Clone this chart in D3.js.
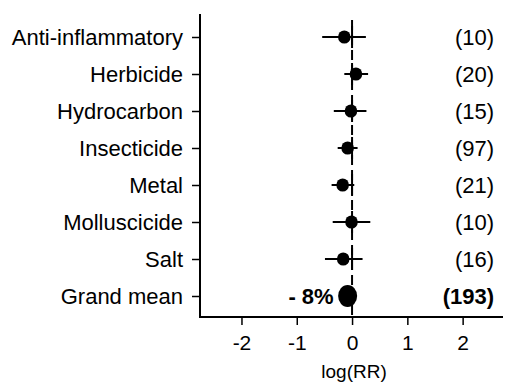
<!DOCTYPE html>
<html><head><meta charset="utf-8">
<script src="https://cdn.jsdelivr.net/npm/d3@7"></script>
<style>body{margin:0;background:#fff}svg{display:block}text{font-family:"Liberation Sans",Arial,Helvetica,sans-serif}</style>
</head><body><svg id="c" width="514" height="384"></svg>
<script>
const categories = ["Anti-inflammatory","Herbicide","Hydrocarbon","Insecticide","Metal","Molluscicide","Salt","Grand mean"];
const estimates = [-0.14, 0.07, -0.02, -0.08, -0.17, -0.01, -0.16, -0.08];
const lower = [-0.54, -0.14, -0.33, -0.26, -0.37, -0.35, -0.49, -0.14];
const upper = [0.25, 0.29, 0.26, 0.10, 0.04, 0.33, 0.19, -0.02];
const counts = ["(10)","(20)","(15)","(97)","(21)","(10)","(16)","(193)"];
const xTicks = [-2, -1, 0, 1, 2];
const grandLabel = "- 8%";

const svg = d3.select("#c");
const x = d3.scaleLinear().domain([-2.75, 2.73]).range([200, 503]);
const y = d3.scalePoint().domain(categories).range([37, 296]);
const plotLeft = 200, plotBottom = 317, plotTop = 14;

// zero dashed line
svg.append("line").attr("x1", x(0)).attr("x2", x(0)).attr("y1", 20).attr("y2", plotBottom)
  .attr("stroke", "#000").attr("stroke-width", 2).attr("stroke-dasharray", "10,5");

// axes
const yAxis = d3.axisLeft(y).tickSize(8).tickPadding(9);
const gy = svg.append("g").attr("transform", `translate(${plotLeft},0)`).call(yAxis);
gy.select(".domain").remove();
gy.selectAll(".tick line").attr("stroke-width", 1.5);
gy.selectAll(".tick text").attr("font-size", 22).attr("fill", "#000");
svg.append("line").attr("x1", plotLeft).attr("x2", plotLeft).attr("y1", plotTop).attr("y2", plotBottom + 1).attr("stroke", "#000").attr("stroke-width", 2);

const xAxis = d3.axisBottom(x).tickValues(xTicks).tickSize(8).tickPadding(10).tickFormat(d => String(d));
const gx = svg.append("g").attr("transform", `translate(0,${plotBottom})`).call(xAxis);
gx.select(".domain").remove();
gx.selectAll(".tick line").attr("stroke-width", 1.5);
gx.selectAll(".tick text").attr("font-size", 21).attr("fill", "#000");
svg.append("line").attr("x1", plotLeft - 1).attr("x2", 503).attr("y1", plotBottom).attr("y2", plotBottom).attr("stroke", "#000").attr("stroke-width", 2);

svg.append("text").attr("x", x(0) + 2).attr("y", 378).attr("text-anchor", "middle")
  .attr("font-size", 19).text("log(RR)");

const data = categories.map((c, i) => ({c, e: estimates[i], lo: lower[i], hi: upper[i], n: counts[i], grand: c === "Grand mean"}));

svg.selectAll(".ci").data(data).join("line")
  .attr("x1", d => x(d.lo)).attr("x2", d => x(d.hi))
  .attr("y1", d => y(d.c)).attr("y2", d => y(d.c))
  .attr("stroke", "#000").attr("stroke-width", 2);

svg.selectAll(".vt").data(data.filter(d => !d.grand)).join("line")
  .attr("x1", x(0)).attr("x2", x(0))
  .attr("y1", d => y(d.c) - 11).attr("y2", d => y(d.c) + 11)
  .attr("stroke", "#000").attr("stroke-width", 2);

svg.selectAll(".pt").data(data).join("ellipse")
  .attr("cx", d => x(d.e)).attr("cy", d => y(d.c))
  .attr("rx", d => d.grand ? 9.5 : 6.3).attr("ry", d => d.grand ? 11 : 6.6)
  .attr("fill", "#000");

svg.selectAll(".cnt").data(data).join("text")
  .attr("x", 494).attr("y", d => y(d.c)).attr("dy", "0.35em")
  .attr("text-anchor", "end").attr("font-size", 22)
  .attr("font-weight", d => d.grand ? "bold" : "normal").text(d => d.n);

const g = data[data.length - 1];
svg.append("text").attr("x", x(g.e) - 14).attr("y", y(g.c)).attr("dy", "0.35em")
  .attr("text-anchor", "end").attr("font-size", 22).attr("font-weight", "bold").text(grandLabel);
</script></body></html>
